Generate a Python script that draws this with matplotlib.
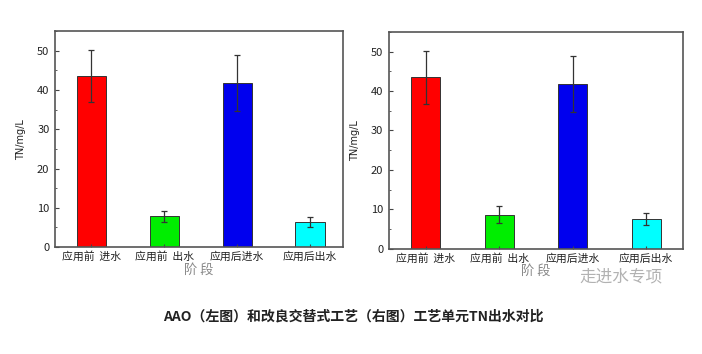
import matplotlib
matplotlib.use("Agg")
import matplotlib.pyplot as plt
from matplotlib.ticker import MultipleLocator

plt.rcParams['font.family'] = ['Noto Sans CJK SC', 'DejaVu Sans']

categories = ["应用前  进水", "应用前  出水", "应用后进水", "应用后出水"]
left_values = [43.6, 7.8, 41.8, 6.3]
left_errors = [6.6, 1.5, 7.1, 1.3]
right_values = [43.5, 8.7, 41.8, 7.6]
right_errors = [6.7, 2.1, 7.2, 1.6]
bar_colors = ["#ff0000", "#00ee00", "#0000ee", "#00ffff"]
y_label = "TN/mg/L"
x_label = "阶 段"
caption = "AAO（左图）和改良交替式工艺（右图）工艺单元TN出水对比"
watermark = "走进水专项"

fig = plt.figure(figsize=(7.02, 3.54), dpi=100)
fig.patch.set_facecolor("white")

def draw(ax, values, errors, xlim):
    x = list(range(1, len(values) + 1))
    ax.bar(x, values, width=0.4, color=bar_colors, edgecolor="#333333", linewidth=0.7,
           yerr=errors, error_kw=dict(ecolor="#333333", elinewidth=0.9, capsize=2, capthick=0.9))
    ax.set_xlim(*xlim)
    ax.set_ylim(0, 55)
    ax.set_xticks(x)
    ax.set_xticklabels(categories, fontsize=7.8, color="#222222")
    ax.yaxis.set_major_locator(MultipleLocator(10))
    ax.yaxis.set_minor_locator(MultipleLocator(5))
    ax.tick_params(axis='both', which='both', direction='in', colors="#444444", labelcolor="#222222")
    ax.tick_params(axis='y', which='major', length=3, labelsize=8, pad=4)
    ax.tick_params(axis='y', which='minor', length=1.5)
    ax.tick_params(axis='x', length=2.5, pad=3)
    for s in ax.spines.values():
        s.set_color("#555555")
        s.set_linewidth(1.2)
    ax.set_ylabel(y_label, fontsize=7, color="#222222", labelpad=8, family=['DejaVu Sans'])
    ax.set_xlabel(x_label, fontsize=9.5, color="#888888", labelpad=1)

ax1 = fig.add_axes([0.0783, 0.302, 0.410, 0.610])
draw(ax1, left_values, left_errors, (0.5, 4.45))
ax2 = fig.add_axes([0.554, 0.297, 0.419, 0.613])
draw(ax2, right_values, right_errors, (0.5, 4.5))

fig.text(0.885, 0.218, watermark, fontsize=12, color="#aaaaaa", ha="center", va="center", alpha=0.9)
fig.text(0.503, 0.105, caption, fontsize=10, color="#222222", ha="center", va="center", fontweight="bold")

fig.savefig("out.png", dpi=100, facecolor="white")
